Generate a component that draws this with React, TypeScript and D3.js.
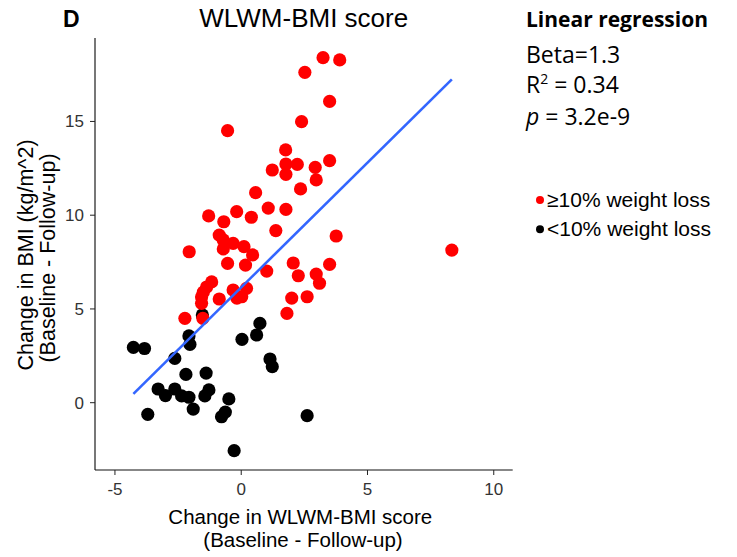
import * as d3 from "d3";

// values
const redX = [3.24, 3.9, 2.52, 3.5, -0.54, 2.39, 1.76, 1.77, 2.22, 1.23, 1.77, 2.93, 3.5, 2.97, 2.35, 0.57, 1.07, 1.77, -0.18, -1.29, -0.69, 0.4, 1.37, -0.87, -0.71, -0.32, 0.11, -0.71, 0.45, -2.06, 3.76, 8.34, -0.54, 0.17, 1.01, 2.06, 3.5, 2.26, 2.97, 3.1, -1.17, -1.37, -1.5, -1.57, -1.57, -0.87, -0.32, 0.21, 0.02, 2.0, 2.61, 1.81, -2.23, -1.52, -0.17];
const redY = [18.4, 18.28, 17.62, 16.07, 14.51, 14.99, 13.48, 12.73, 12.71, 12.41, 12.18, 12.55, 12.91, 11.88, 11.4, 11.2, 10.38, 10.31, 10.19, 9.96, 9.65, 9.89, 9.18, 8.94, 8.68, 8.5, 8.32, 8.2, 7.88, 8.05, 8.89, 8.14, 7.43, 7.34, 7.02, 7.45, 7.38, 6.77, 6.86, 6.37, 6.44, 6.17, 5.9, 5.64, 5.3, 5.53, 6.01, 6.1, 5.65, 5.58, 5.65, 4.76, 4.5, 4.5, 5.58];
const blackX = [-4.27, -3.83, -2.07, -2.03, -2.63, 0.74, 0.61, 0.03, 1.14, 1.23, -2.19, -1.39, -3.29, -3.0, -2.63, -2.36, -2.07, -1.28, -1.44, -1.9, -3.7, -0.49, -0.78, -0.63, -0.28, 2.61, -1.54];
const blackY = [2.95, 2.89, 3.56, 3.11, 2.36, 4.23, 3.61, 3.38, 2.33, 1.92, 1.51, 1.58, 0.73, 0.38, 0.73, 0.36, 0.29, 0.68, 0.36, -0.34, -0.62, 0.2, -0.75, -0.5, -2.56, -0.69, 4.68];

// fitted line as drawn in the reference (geom_smooth lm)
const fitSlope = 1.33;
const fitIntercept = 6.15;

const xTicks = [-5, 0, 5, 10];
const yTicks = [0, 5, 10, 15];

const legendLabels = ["\u226510% weight loss", "<10% weight loss"];
const legendColors = ["#ff0000", "#000000"];

const W = 737,
  H = 557;
const plot = { left: 95, right: 512.7, top: 38, bottom: 470 };

const font = "'Liberation Sans', Arial, sans-serif";
const calibri = "'Open Sans', sans-serif";

export default function App() {
  const x = d3.scaleLinear().domain([-5.79, 10.75]).range([plot.left, plot.right]);
  const y = d3.scaleLinear().domain([-3.59, 19.45]).range([plot.bottom, plot.top]);

  const red = redX.map((v, i) => [v, redY[i]] as [number, number]);
  const black = blackX.map((v, i) => [v, blackY[i]] as [number, number]);
  const all = [...red, ...black];

  const [x0, x1] = d3.extent(all, (d) => d[0]) as [number, number];
  const fit = d3
    .line<number>()
    .x((d) => x(d))
    .y((d) => y(fitIntercept + fitSlope * d));

  return (
    <svg
      width={W}
      height={H}
      style={{ position: "absolute", left: 0, top: 0, background: "#fff" }}
    >
      <text x={63} y={27} fontFamily={font} fontWeight="bold" fontSize={23}>
        D
      </text>
      <text x={303.7} y={26.7} fontFamily={font} fontSize={26} textAnchor="middle">
        WLWM-BMI score
      </text>

      {/* axes */}
      <line x1={plot.left} x2={plot.left} y1={plot.top} y2={plot.bottom} stroke="#777" strokeWidth={2} />
      <line x1={plot.left} x2={plot.right} y1={plot.bottom} y2={plot.bottom} stroke="#111" strokeWidth={1.2} />
      {xTicks.map((t) => (
        <g key={"x" + t}>
          <line x1={x(t)} x2={x(t)} y1={plot.bottom} y2={plot.bottom + 5} stroke="#222" />
          <text x={x(t)} y={495} fontFamily={font} fontSize={17} fill="#333" textAnchor="middle">
            {t}
          </text>
        </g>
      ))}
      {yTicks.map((t) => (
        <g key={"y" + t}>
          <line x1={plot.left - 5} x2={plot.left} y1={y(t)} y2={y(t)} stroke="#222" />
          <text x={84} y={y(t) + 6} fontFamily={font} fontSize={17} fill="#333" textAnchor="end">
            {t}
          </text>
        </g>
      ))}

      <text x={300.3} y={524} fontFamily={font} fontSize={20.5} textAnchor="middle">
        Change in WLWM-BMI score
      </text>
      <text x={303} y={547} fontFamily={font} fontSize={20.5} textAnchor="middle">
        (Baseline - Follow-up)
      </text>
      <g transform="translate(33.3,255) rotate(-90)">
        <text x={0} y={0} fontFamily={font} fontSize={21.5} textAnchor="middle">
          Change in BMI (kg/m^2)
        </text>
        <text x={-3} y={22} fontFamily={font} fontSize={21.5} textAnchor="middle">
          (Baseline - Follow-up)
        </text>
      </g>

      {/* points */}
      {black.map((d, i) => (
        <circle key={"b" + i} cx={x(d[0])} cy={y(d[1])} r={6.6} fill="#000" />
      ))}
      {red.map((d, i) => (
        <circle key={"r" + i} cx={x(d[0])} cy={y(d[1])} r={6.6} fill="#ff0000" />
      ))}

      <path d={fit([x0, x1])!} fill="none" stroke="#3366ff" strokeWidth={2.6} />

      {/* regression text */}
      <g fontFamily={calibri} fill="#000">
        <text x={526} y={27.3} fontWeight="bold" fontSize={21}>
          Linear regression
        </text>
        <text x={526} y={62.7} fontSize={23}>
          Beta=1.3
        </text>
        <text x={526} y={93.3} fontSize={23}>
          R<tspan dy={-9} fontSize={14}>2</tspan>
          <tspan dy={9}> = 0.34</tspan>
        </text>
        <text x={526} y={125} fontSize={23}>
          <tspan fontStyle="italic">p</tspan> = 3.2e-9
        </text>
      </g>

      {/* legend */}
      {legendLabels.map((l, i) => (
        <g key={l}>
          <circle cx={540} cy={200 + i * 29.3} r={4} fill={legendColors[i]} />
          <text x={547} y={206.5 + i * 29.3} fontFamily={font} fontSize={21}>
            {l}
          </text>
        </g>
      ))}
    </svg>
  );
}
